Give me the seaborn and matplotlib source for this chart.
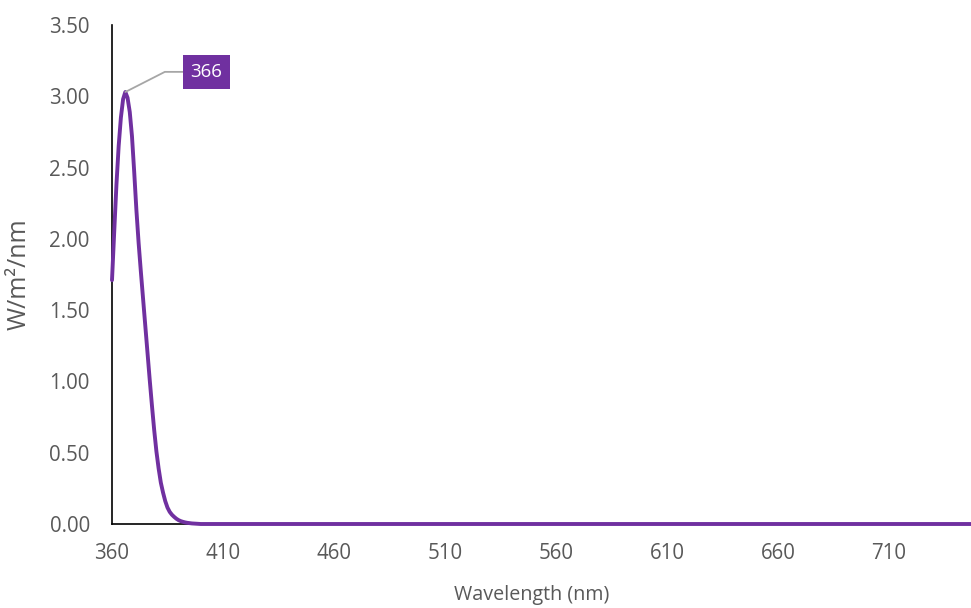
import matplotlib
matplotlib.use("Agg")
import matplotlib.pyplot as plt
import numpy as np
import pandas as pd
import seaborn as sns
from matplotlib.ticker import FormatStrFormatter

# Spectral irradiance of a UV-A source (W/m²/nm)
wavelength_peak = list(range(360, 401))
irradiance_peak = [1.71, 2.05, 2.38, 2.65, 2.85, 2.98, 3.03, 2.99, 2.89, 2.72,
                   2.47, 2.20, 1.97, 1.77, 1.58, 1.39, 1.20, 1.01, 0.83, 0.66,
                   0.51, 0.39, 0.29, 0.22, 0.16, 0.115, 0.085, 0.065, 0.05, 0.037,
                   0.027, 0.02, 0.015, 0.011, 0.008, 0.006, 0.004, 0.003, 0.002, 0.001,
                   0.0]
wavelength_tail = [410, 450, 500, 550, 600, 650, 700, 750, 780]
irradiance_tail = [0.0, 0.0, 0.0, 0.0, 0.0, 0.0, 0.0, 0.0, 0.0]

x_ticks = [360, 410, 460, 510, 560, 610, 660, 710]
y_ticks = [0.0, 0.5, 1.0, 1.5, 2.0, 2.5, 3.0, 3.5]
peak_label = "366"

purple = "#7030A0"
grey_text = "#595959"

df = pd.DataFrame({
    "wavelength": wavelength_peak + wavelength_tail,
    "irradiance": irradiance_peak + irradiance_tail,
})

sns.set_style("white")
plt.rcParams["font.family"] = ["Open Sans", "DejaVu Sans"]

fig = plt.figure(figsize=(9.71, 6.08), dpi=100)
ax = fig.add_axes([112 / 971, 84 / 608, 1 - 112 / 971, 499 / 608])

sns.lineplot(data=df, x="wavelength", y="irradiance", color=purple,
             linewidth=2.8, ax=ax, clip_on=False, zorder=4)

ax.set_xlim(360, 747)
ax.set_ylim(0, 3.5)
ax.set_xticks(x_ticks)
ax.set_yticks(y_ticks)
ax.yaxis.set_major_formatter(FormatStrFormatter("%.2f"))

for side in ("top", "right"):
    ax.spines[side].set_visible(False)
for side in ("left", "bottom"):
    ax.spines[side].set_color("black")
    ax.spines[side].set_linewidth(1.2)

ax.tick_params(axis="both", length=0, labelsize=14.8, labelcolor=grey_text)
ax.tick_params(axis="y", pad=16)
ax.tick_params(axis="x", pad=14)

ax.set_xlabel("Wavelength (nm)", fontsize=14.2, color=grey_text)
ax.set_ylabel("W/m²/nm", fontsize=18, color=grey_text)
ax.xaxis.set_label_coords(0.488, -0.123)
ax.yaxis.set_label_coords(-0.093, 0.5)

# Peak callout
peak_idx = int(np.argmax(irradiance_peak))
ax.annotate(peak_label,
            xy=(wavelength_peak[peak_idx], irradiance_peak[peak_idx]),
            xytext=(58.5, 14.5), textcoords="offset points",
            ha="center", va="center", fontsize=13.5, color="white",
            bbox=dict(boxstyle="square,pad=0.42", fc=purple, ec="none"),
            arrowprops=dict(arrowstyle="-", color="#A6A6A6", lw=1.3,
                            connectionstyle="angle,angleA=0,angleB=27,rad=0",
                            relpos=(0, 0.5), shrinkA=0, shrinkB=0),
            zorder=5)

fig.savefig("out.png", dpi=100)
